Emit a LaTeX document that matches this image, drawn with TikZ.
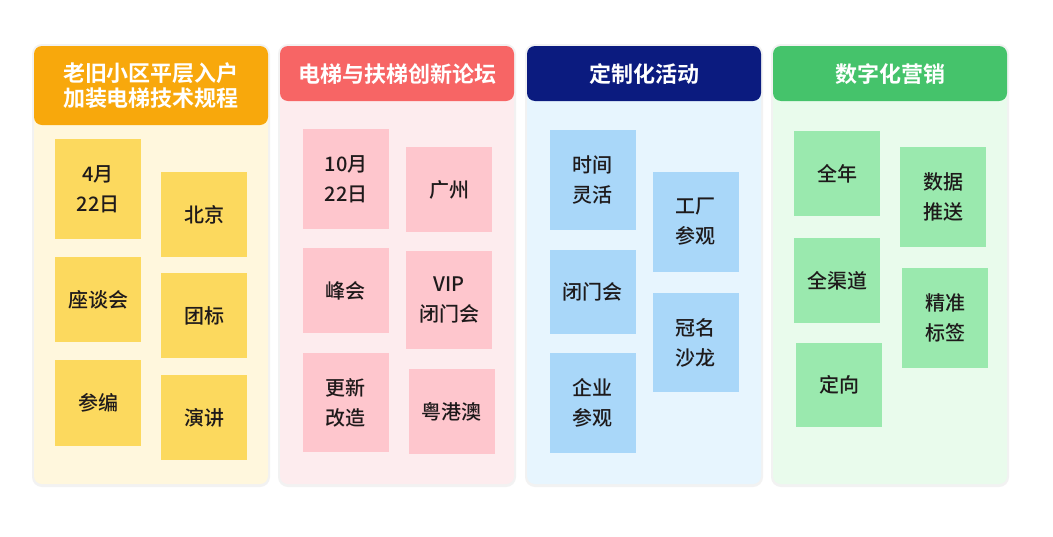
\documentclass[tikz,border=0pt]{standalone}
\usepackage{fontspec}
\newfontfamily\cjk{Noto Sans CJK SC Medium}
\newfontfamily\cjkb{Noto Sans CJK SC Bold}
\definecolor{hY}{HTML}{F8A80C}
\definecolor{bY}{HTML}{FFF7DD}
\definecolor{sY}{HTML}{FCD95E}
\definecolor{hR}{HTML}{F76565}
\definecolor{bR}{HTML}{FDECEE}
\definecolor{sR}{HTML}{FEC6CD}
\definecolor{hB}{HTML}{0B1B7F}
\definecolor{bB}{HTML}{E7F5FE}
\definecolor{sB}{HTML}{A9D7F9}
\definecolor{hG}{HTML}{45C36B}
\definecolor{bG}{HTML}{E9FBEC}
\definecolor{sG}{HTML}{9AE9AE}
\definecolor{txt}{HTML}{1E1A1B}
\definecolor{shd}{HTML}{F2F2F2}
\tikzset{
  panelbody/.style={rounded corners=8pt, draw=none},
  header/.style={rounded corners=8pt, draw=none},
  headtext/.style={text=white, align=center, font=\cjkb\fontsize{22}{25}\selectfont, inner sep=0pt},
  stk/.style={rectangle, inner sep=0pt, minimum width=86pt, align=center, text=txt, font=\cjk\fontsize{20}{30}\selectfont},
}
\begin{document}
\begin{tikzpicture}[x=1pt,y=-1pt]
\useasboundingbox[fill=white] (0,0) rectangle (1053,536);
% faint shadows
\foreach \xa/\xb in {34/268, 280/514, 527/761, 773/1007}{
  \fill[rounded corners=10pt, shd] (\xa-2,44) rectangle (\xb+2,487);
}
% panel bodies
\fill[panelbody, bY] (34,46) rectangle (268,484);
\fill[panelbody, bR] (280,46) rectangle (514,484);
\fill[panelbody, bB] (527,46) rectangle (761,484);
\fill[panelbody, bG] (773,46) rectangle (1007,484);
% headers
\fill[header, hY] (34,46) rectangle (268,125);
\fill[header, hR] (280,46) rectangle (514,101);
\fill[header, hB] (527,46) rectangle (761,101);
\fill[header, hG] (773,46) rectangle (1007,101);
\node[headtext] (h1) at (151,85.5) {老旧小区平层入户\\加装电梯技术规程};
\node[headtext] (h2) at (397,74.5) {电梯与扶梯创新论坛};
\node[headtext] (h3) at (644,74.5) {定制化活动};
\node[headtext] (h4) at (890,74.5) {数字化营销};
% panel 1
\node[stk, fill=sY, minimum height=100pt] (p1a) at (98,189) {4月\\22日};
\node[stk, fill=sY, minimum height=85pt] (p1b) at (204,214.5) {北京};
\node[stk, fill=sY, minimum height=85pt] (p1c) at (98,299.5) {座谈会};
\node[stk, fill=sY, minimum height=85pt] (p1d) at (204,315.5) {团标};
\node[stk, fill=sY, minimum height=86pt] (p1e) at (98,403) {参编};
\node[stk, fill=sY, minimum height=85pt] (p1f) at (204,417.5) {演讲};
% panel 2
\node[stk, fill=sR, minimum height=100pt] (p2a) at (346,179) {10月\\22日};
\node[stk, fill=sR, minimum height=85pt] (p2b) at (449,189.5) {广州};
\node[stk, fill=sR, minimum height=85pt] (p2c) at (345.5,290.5) {峰会};
\node[stk, fill=sR, minimum height=98pt] (p2d) at (449,300) {VIP\\闭门会};
\node[stk, fill=sR, minimum height=99pt] (p2e) at (345.5,402.5) {更新\\改造};
\node[stk, fill=sR, minimum height=85pt] (p2f) at (451.5,411.5) {粤港澳};
% panel 3
\node[stk, fill=sB, minimum height=100pt] (p3a) at (592.5,180) {时间\\灵活};
\node[stk, fill=sB, minimum height=100pt] (p3b) at (695.5,222) {工厂\\参观};
\node[stk, fill=sB, minimum height=84pt] (p3c) at (592.5,292) {闭门会};
\node[stk, fill=sB, minimum height=99pt] (p3d) at (695.5,342.5) {冠名\\沙龙};
\node[stk, fill=sB, minimum height=100pt] (p3e) at (592.5,403) {企业\\参观};
% panel 4
\node[stk, fill=sG, minimum height=85pt] (p4a) at (837,173.5) {全年};
\node[stk, fill=sG, minimum height=100pt] (p4b) at (943,197) {数据\\推送};
\node[stk, fill=sG, minimum height=85pt] (p4c) at (837,280.5) {全渠道};
\node[stk, fill=sG, minimum height=100pt] (p4d) at (945,318) {精准\\标签};
\node[stk, fill=sG, minimum height=84pt] (p4e) at (839,385) {定向};
\end{tikzpicture}
\end{document}
